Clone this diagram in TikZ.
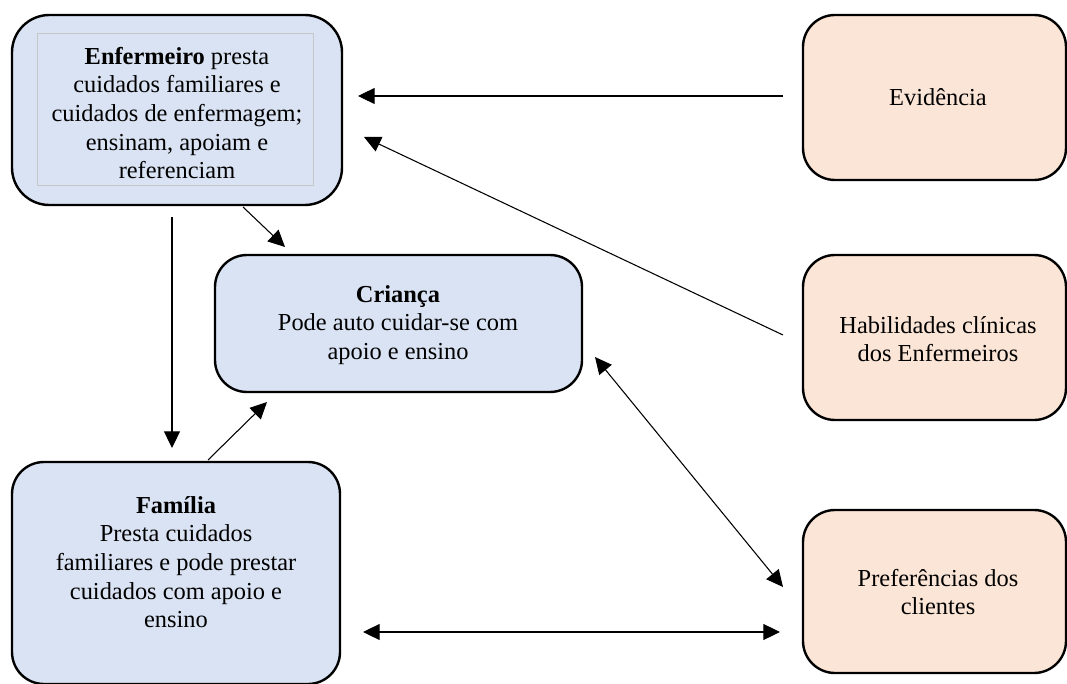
\documentclass[tikz,border=0pt]{standalone}
\usepackage{fontspec}
\setmainfont{Liberation Serif}
\usetikzlibrary{arrows.meta}
\definecolor{bluefill}{HTML}{DAE3F3}
\definecolor{peachfill}{HTML}{FBE5D6}
\begin{document}
\begin{tikzpicture}[x=0.75pt,y=-0.75pt,
  box/.style={draw=black, line width=1.8pt, rounded corners=24pt, inner sep=0pt},
  bluebox/.style={box, fill=bluefill},
  peachbox/.style={box, fill=peachfill},
  txt/.style={font=\fontsize{18.3}{21.5}\selectfont, align=center, inner sep=0pt},
  arr/.style={-{Triangle[length=12.5pt,width=12pt]}, line width=0.8pt},
  darr/.style={{Triangle[length=12.5pt,width=12pt]}-{Triangle[length=12.5pt,width=12pt]}, line width=0.8pt}]
\useasboundingbox (0,0) rectangle (1067,684);

% boxes
\node[bluebox, rounded corners=28pt, minimum width=247.5pt, minimum height=142.5pt] (enfbox) at (177,110) {};
\draw[gray!45, line width=0.5pt] (37,33) rectangle (313,185);
\node[bluebox, minimum width=275.25pt, minimum height=102.75pt] (cribox) at (398.5,323.5) {};
\node[bluebox, minimum width=246pt, minimum height=166.5pt] (fambox) at (176,573) {};
\node[peachbox, minimum width=197.25pt, minimum height=123.75pt] (evibox) at (934.5,97.5) {};
\node[peachbox, minimum width=197.25pt, minimum height=123.75pt] (habbox) at (934.5,337.5) {};
\node[peachbox, minimum width=197.25pt, minimum height=122.25pt] (prefbox) at (934.5,591.5) {};

% texts
\node[txt] (enf) at (177,113) {\textbf{Enfermeiro} presta\\cuidados familiares e\\cuidados de enfermagem;\\ensinam, apoiam e\\referenciam};
\node[txt] (cri) at (398,325) {\textbf{Criança}\\Pode auto cuidar-se com\\apoio e ensino};
\node[txt] (fam) at (176,562) {\textbf{Família}\\Presta cuidados\\familiares e pode prestar\\cuidados com apoio e\\ensino};
\node[txt] (evi) at (938,97) {Evidência};
\node[txt] (hab) at (938,339) {Habilidades clínicas\\dos Enfermeiros};
\node[txt] (pref) at (938,592) {Preferências dos\\clientes};

% connector end points
\coordinate (evi-s) at (783,96);
\coordinate (enf-e1) at (358,96);
\coordinate (hab-s) at (783,335);
\coordinate (enf-e2) at (364,137);
\coordinate (enf-s1) at (243,207);
\coordinate (cri-e1) at (285,247);
\coordinate (enf-s2) at (172,217);
\coordinate (fam-e1) at (172,448);
\coordinate (fam-s1) at (208,460);
\coordinate (cri-e2) at (267,402);
\coordinate (cri-e3) at (595,357);
\coordinate (pref-e1) at (783,587);
\coordinate (fam-e2) at (363,632);
\coordinate (pref-e2) at (780,632);

% connectors
\draw[arr] (evi-s) -- (enf-e1);
\draw[arr] (hab-s) -- (enf-e2);
\draw[arr] (enf-s1) -- (cri-e1);
\draw[arr] (enf-s2) -- (fam-e1);
\draw[arr] (fam-s1) -- (cri-e2);
\draw[darr] (cri-e3) -- (pref-e1);
\draw[darr] (fam-e2) -- (pref-e2);
\end{tikzpicture}
\end{document}
